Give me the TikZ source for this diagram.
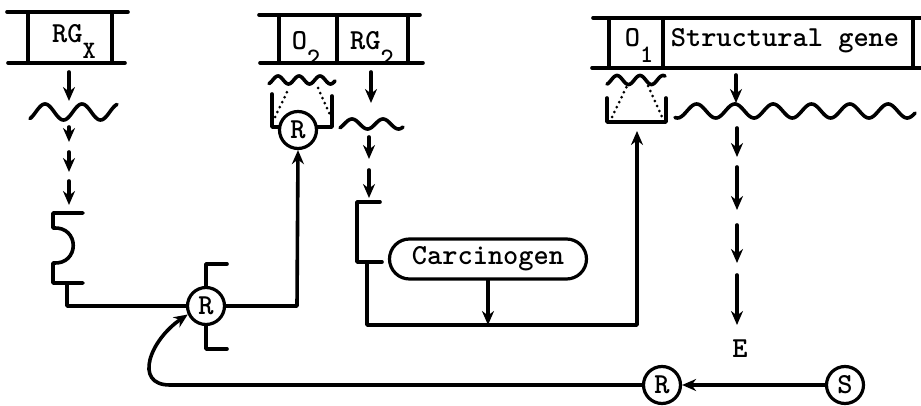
\documentclass[tikz,border=0pt]{standalone}
\usepackage{fontspec}
\usetikzlibrary{arrows.meta}
\newfontfamily\twfont{lmmonolt10-bold}[Extension=.otf]
\newcommand\lbl{\twfont\fontsize{29}{32}\selectfont}
\newcommand\subtxt[1]{\raisebox{-16pt}{\fontsize{25}{25}\selectfont #1}}
\tikzset{
  ln/.style={line width=3.6pt, line cap=round, line join=round},
  arr/.style={ln, -{Stealth[length=14pt,width=12pt]}},
  circ/.style={circle, draw, line width=3.2pt, minimum size=37pt, inner sep=0pt, fill=white, font=\lbl},
  dots/.style={line width=3pt, line cap=round, dash pattern=on 0pt off 5.5pt},
  txt/.style={font=\lbl, inner sep=0pt, anchor=base},
}
\begin{document}
\begin{tikzpicture}[x=1pt,y=-1pt]
\useasboundingbox (0,0) rectangle (921,406);
% ---------- gene RGx ----------
\draw[ln] (7,12) -- (128,12);
\draw[ln] (8,63) -- (125,63);
\draw[ln] (28,12) -- (28,63);
\draw[ln] (112,12) -- (112,63);
\node[txt] (rgx) at (74,43) {RG\subtxt{X}};
% ---------- genes O2 RG2 ----------
\draw[ln] (259,15) -- (420,15);
\draw[ln] (260,63) -- (423,63);
\draw[ln] (279,15) -- (279,63);
\draw[ln] (337,15) -- (337,63);
\draw[ln] (408,15) -- (408,63);
\node[txt] (o2) at (306,50) {O\subtxt{2}};
\node[txt] (rg2) at (372,50) {RG\subtxt{2}};
% ---------- O1 structural gene ----------
\draw[ln] (593,18) -- (921,18);
\draw[ln] (592,68) -- (921,68);
\draw[ln] (609,18) -- (609,68);
\draw[ln] (663,18) -- (663,68);
\draw[ln] (913,18) -- (913,68);
\node[txt] (o1) at (639,47) {O\subtxt{1}};
\node[txt] (sg) at (785,47) {Structural gene};
% ---------- waves (mRNA) ----------
\draw[ln] plot[domain=30:117, samples=80, smooth] (\x, {112-8*sin((\x-35.75)/37*360)});
\draw[ln] plot[domain=269:335, samples=80, smooth] (\x, {80-4*sin((\x-272.75)/21*360)});
\draw[ln] plot[domain=340:403, samples=80, smooth] (\x, {124-5*sin((\x-344.25)/31*360)});
\draw[ln] plot[domain=607:665, samples=80, smooth] (\x, {80-4.5*sin((\x-611.25)/23*360)});
\draw[ln] plot[domain=675:915, samples=200, smooth] (\x, {111-7*sin((\x-687)/38.3*360)});
% ---------- left column ----------
\draw[arr] (69,72) -- (69,101);
\draw[arr] (69,127) -- (69,142);
\draw[arr] (69,152) -- (69,172);
\draw[arr] (69,181) -- (69,205);
% receptor site (left)
\draw[ln] (83,213) -- (53,213) -- (53,228) .. controls (80,226) and (80,265) .. (53,263) -- (53,283) -- (83,283);
% ---------- RG2 column ----------
\draw[arr] (371,72) -- (371,103);
\draw[arr] (369,137) -- (369,159);
\draw[arr] (369,170) -- (369,198);
\draw[ln] (380,202) -- (357,202) -- (357,262) -- (382,262);
% ---------- structural gene column ----------
\draw[arr] (736,75) -- (736,103);
\draw[arr] (737,128) -- (737,157);
\draw[arr] (737,167) -- (737,210);
\draw[arr] (737,225) -- (737,263);
\draw[arr] (737,275) -- (737,325);
\node[txt] (E) at (740,357) {E};
% ---------- operator O2 bracket ----------
\draw[ln] (272,94) -- (272,127) -- (332,127) -- (332,96);
\draw[dots] (275,117) -- (289,88);
\draw[dots] (318,88) -- (331,117);
\node[circ] (R2) at (298,130) {R};
% ---------- operator O1 bracket ----------
\draw[ln] (607,98) -- (607,122) -- (666,122) -- (666,98);
\draw[dots] (612,117) -- (627,86);
\draw[dots] (648,86) -- (662,117);
% ---------- repressor R1 ----------
\node[circ] (R1) at (206,306) {R};
\draw[ln] (227,264) -- (206,264) -- (R1.north);
\draw[ln] (R1.south) -- (206,349) -- (227,349);
\draw[ln] (67,283) -- (67,306) -- (R1.west);
\draw[arr] (R1.east) -- (297,306) -- (R2.south);
% ---------- carcinogen ----------
\node[draw, line width=3.2pt, rounded corners=20pt, minimum width=197pt, minimum height=40pt, inner sep=0pt, font=\lbl] (C) at (488,259) {Carcinogen};
\coordinate (J) at (637,325);
\draw[arr] (367,262) -- (367,325) -- (J) -- (637,131);
\draw[arr] (C.south) -- (C.south |- J);
% ---------- bottom ----------
\node[circ] (R3) at (662,385) {R};
\node[circ] (S) at (845,385) {S};
\draw[arr] (S.west) -- (R3.east);
\draw[arr] (R3.west) -- (170,385) .. controls (133,385) and (150,340) .. (R1.205);
\end{tikzpicture}
\end{document}
